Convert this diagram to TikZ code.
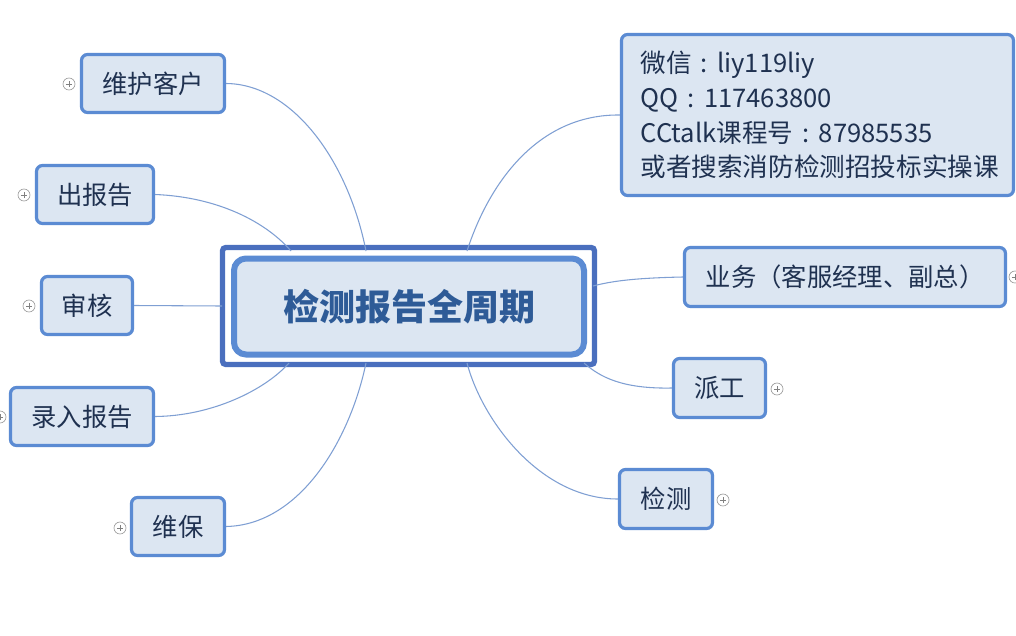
\documentclass[tikz,border=0pt]{standalone}
\usepackage{fontspec}
\setmainfont{Noto Sans CJK SC}
\usetikzlibrary{calc}
\definecolor{boxfill}{HTML}{DCE6F2}
\definecolor{boxline}{HTML}{5B8BD3}
\definecolor{hubouter}{HTML}{4A6FBE}
\definecolor{txt}{HTML}{1F3150}
\definecolor{hubtxt}{HTML}{2E5B97}
\definecolor{conn}{HTML}{7F9FD3}
\newcommand{\fwcolon}{\makebox[1em][c]{:}}
\tikzset{
  box/.style={draw=boxline, fill=boxfill, line width=2.4pt, rounded corners=4.5pt,
    text=txt, font=\fontsize{19}{26}\selectfont, inner sep=0pt},
  conline/.style={draw=conn, line width=0.8pt},
  plusmark/.style={circle, draw=gray!80, fill=white, line width=0.5pt, minimum size=9pt, inner sep=0pt,
    path picture={\draw[gray, line width=0.5pt]
      ($(path picture bounding box.center)+(-2.3pt,0)$) -- ++(4.6pt,0)
      ($(path picture bounding box.center)+(0,-2.3pt)$) -- ++(0,4.6pt);}}
}
\begin{document}
\begin{tikzpicture}[x=0.75pt,y=-0.75pt]
\useasboundingbox (0,0) rectangle (1016,635);
% free ends on the hub frame
\coordinate (t1) at (366,251);
\coordinate (t2) at (291,251);
\coordinate (t3) at (467,251);
\coordinate (l1) at (222,306);
\coordinate (b1) at (289,363);
\coordinate (b2) at (366,363);
\coordinate (b3) at (467,363);
\coordinate (r1) at (593,286);
\coordinate (r2) at (584,363);

% hub
\draw[hubouter, line width=4pt, rounded corners=2.5pt] (222.5,247.5) rectangle (594.5,364.5);
\node[box, line width=4.5pt, rounded corners=9pt, minimum width=350*0.75pt, minimum height=96*0.75pt,
  text=hubtxt, font=\fontsize{27}{30}\selectfont\bfseries] (hub) at (409,306.5) {检测报告全周期};

% child nodes
\node[box, minimum width=143*0.75pt, minimum height=58*0.75pt] (whkh) at (153,83.5) {维护客户};
\node[box, minimum width=117*0.75pt, minimum height=58*0.75pt] (cbg) at (95,194.5) {出报告};
\node[box, minimum width=91*0.75pt, minimum height=58*0.75pt] (sh) at (87,305.5) {审核};
\node[box, minimum width=143*0.75pt, minimum height=58*0.75pt] (lrbg) at (82,416.5) {录入报告};
\node[box, minimum width=93*0.75pt, minimum height=58*0.75pt] (wb) at (178,526.5) {维保};
\node[box, font=\fontsize{19.2}{26}\selectfont, minimum width=392*0.75pt, minimum height=161*0.75pt,
  align=left, text width=354*0.75pt] (info) at (817.5,115)
  {微信\fwcolon liy119liy\\QQ\fwcolon 117463800\\CCtalk课程号\fwcolon 87985535\\或者搜索消防检测招投标实操课};
\node[box, minimum width=321*0.75pt, minimum height=59*0.75pt] (yw) at (845,277) {业务（客服经理、副总）};
\node[box, minimum width=92*0.75pt, minimum height=59*0.75pt] (pg) at (719.5,388) {派工};
\node[box, minimum width=93*0.75pt, minimum height=59*0.75pt] (jc) at (666,499) {检测};

% connectors
\draw[conline] (whkh.east) .. controls (292,84) and (348,160) .. (t1);
\draw[conline] (cbg.east) .. controls (218,197) and (266,222) .. (t2);
\draw[conline] (sh.east) -- (l1);
\draw[conline] (lrbg.east) .. controls (212,416) and (265,390) .. (b1);
\draw[conline] (wb.east) .. controls (300,525) and (350,440) .. (b2);
\draw[conline] (info.west) .. controls (540,114) and (490,180) .. (t3);
\draw[conline] (yw.west) .. controls (635,278) and (612,281) .. (r1);
\draw[conline] (pg.west) .. controls (622,389) and (600,377) .. (r2);
\draw[conline] (jc.west) .. controls (540,499) and (482,420) .. (b3);

% collapse markers
\node[plusmark] (p1) at (69,84) {};
\node[plusmark] (p2) at (24,195) {};
\node[plusmark] (p3) at (29,306) {};
\node[plusmark] (p4) at (0,417) {};
\node[plusmark] (p5) at (120,528) {};
\node[plusmark] (p6) at (1015,277) {};
\node[plusmark] (p7) at (777,389) {};
\node[plusmark] (p8) at (723,500) {};
\end{tikzpicture}
\end{document}
